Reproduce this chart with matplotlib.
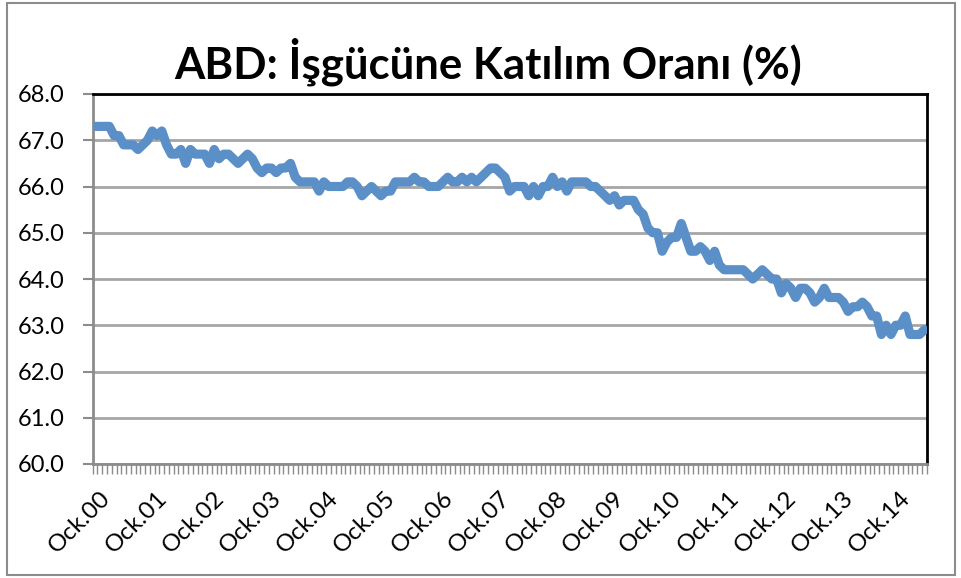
"""
ABD işgücüne katılım oranı, aylık, Ocak 2000 - Temmuz 2014.
Excel tarzı çizgi grafik yeniden çizimi -> out.png
"""

import matplotlib.pyplot as plt
from matplotlib.patches import Rectangle
from matplotlib.transforms import ScaledTranslation

W, H = 962, 578
C_LINE = "#5b8fc8"
C_GRID = "#a6a6a6"
C_AXIS = "#8c8c8c"

plt.rcParams["font.family"] = ["Lato", "DejaVu Sans"]

# monthly values (%), one list per year
y2000 = [67.3, 67.3, 67.3, 67.3, 67.1, 67.1, 66.9, 66.9, 66.9, 66.8, 66.9, 67.0]
y2001 = [67.2, 67.1, 67.2, 66.9, 66.7, 66.7, 66.8, 66.5, 66.8, 66.7, 66.7, 66.7]
y2002 = [66.5, 66.8, 66.6, 66.7, 66.7, 66.6, 66.5, 66.6, 66.7, 66.6, 66.4, 66.3]
y2003 = [66.4, 66.4, 66.3, 66.4, 66.4, 66.5, 66.2, 66.1, 66.1, 66.1, 66.1, 65.9]
y2004 = [66.1, 66.0, 66.0, 66.0, 66.0, 66.1, 66.1, 66.0, 65.8, 65.9, 66.0, 65.9]
y2005 = [65.8, 65.9, 65.9, 66.1, 66.1, 66.1, 66.1, 66.2, 66.1, 66.1, 66.0, 66.0]
y2006 = [66.0, 66.1, 66.2, 66.1, 66.1, 66.2, 66.1, 66.2, 66.1, 66.2, 66.3, 66.4]
y2007 = [66.4, 66.3, 66.2, 65.9, 66.0, 66.0, 66.0, 65.8, 66.0, 65.8, 66.0, 66.0]
y2008 = [66.2, 66.0, 66.1, 65.9, 66.1, 66.1, 66.1, 66.1, 66.0, 66.0, 65.9, 65.8]
y2009 = [65.7, 65.8, 65.6, 65.7, 65.7, 65.7, 65.5, 65.4, 65.1, 65.0, 65.0, 64.6]
y2010 = [64.8, 64.9, 64.9, 65.2, 64.9, 64.6, 64.6, 64.7, 64.6, 64.4, 64.6, 64.3]
y2011 = [64.2, 64.2, 64.2, 64.2, 64.2, 64.1, 64.0, 64.1, 64.2, 64.1, 64.0, 64.0]
y2012 = [63.7, 63.9, 63.8, 63.6, 63.8, 63.8, 63.7, 63.5, 63.6, 63.8, 63.6, 63.6]
y2013 = [63.6, 63.5, 63.3, 63.4, 63.4, 63.5, 63.4, 63.2, 63.2, 62.8, 63.0, 62.8]
y2014 = [63.0, 63.0, 63.2, 62.8, 62.8, 62.8, 62.9]

years = [y2000, y2001, y2002, y2003, y2004, y2005, y2006, y2007,
         y2008, y2009, y2010, y2011, y2012, y2013, y2014]
year_labels = ["Ock.%02d" % k for k in range(len(years))]

values = [v for yr in years for v in yr]
n = len(values)
months = list(range(n))

fig = plt.figure(figsize=(W / 100, H / 100), dpi=100)

# chart area border
fig.patches.append(Rectangle((7 / W, 3 / H), 948 / W, 572 / H,
                             transform=fig.transFigure, fill=False,
                             edgecolor="#8c8c8c", linewidth=1.5))

left, right, top, bottom = 92.7, 926.7, 94, 464
ax = fig.add_axes([left / W, 1 - bottom / H, (right - left) / W,
                   (bottom - top) / H])

ax.plot(months, values, color=C_LINE, linewidth=6.6,
        solid_capstyle="round", solid_joinstyle="round", zorder=3)

ax.set_xlim(-0.5, n - 0.5)
ax.set_ylim(60, 68)
ax.set_yticks(range(60, 69))
ax.set_yticklabels(["%.1f" % v for v in range(60, 69)])
ax.grid(axis="y", color=C_GRID, linewidth=2.0, zorder=1)

# category axis: a minor tick at every month boundary, labels every January
ax.set_xticks([k - 0.5 for k in range(n + 1)], minor=True)
ax.set_xticks([12 * k for k in range(len(years))])
ax.set_xticklabels(year_labels, rotation=45, ha="right",
                   rotation_mode="anchor")
ax.tick_params(axis="x", which="major", length=0, pad=17, labelsize=17.5)
ax.tick_params(axis="x", which="minor", length=7, width=1.0, color=C_AXIS)
ax.tick_params(axis="y", length=7, width=1.5, color=C_AXIS, labelsize=17,
               pad=13)
shift = ScaledTranslation(4 / 100, 0, fig.dpi_scale_trans)
for lab in ax.get_xticklabels():
    lab.set_transform(lab.get_transform() + shift)

for side in ("left", "bottom"):
    ax.spines[side].set_color(C_AXIS)
    ax.spines[side].set_linewidth(2.0)
for side in ("top", "right"):
    ax.spines[side].set_color("black")
    ax.spines[side].set_linewidth(2.0)

fig.text(488 / W, 1 - 79 / H, "ABD: İşgücüne Katılım Oranı (%)",
         ha="center", va="baseline", fontsize=31.5, fontweight="bold")

fig.savefig("out.png", dpi=100)
